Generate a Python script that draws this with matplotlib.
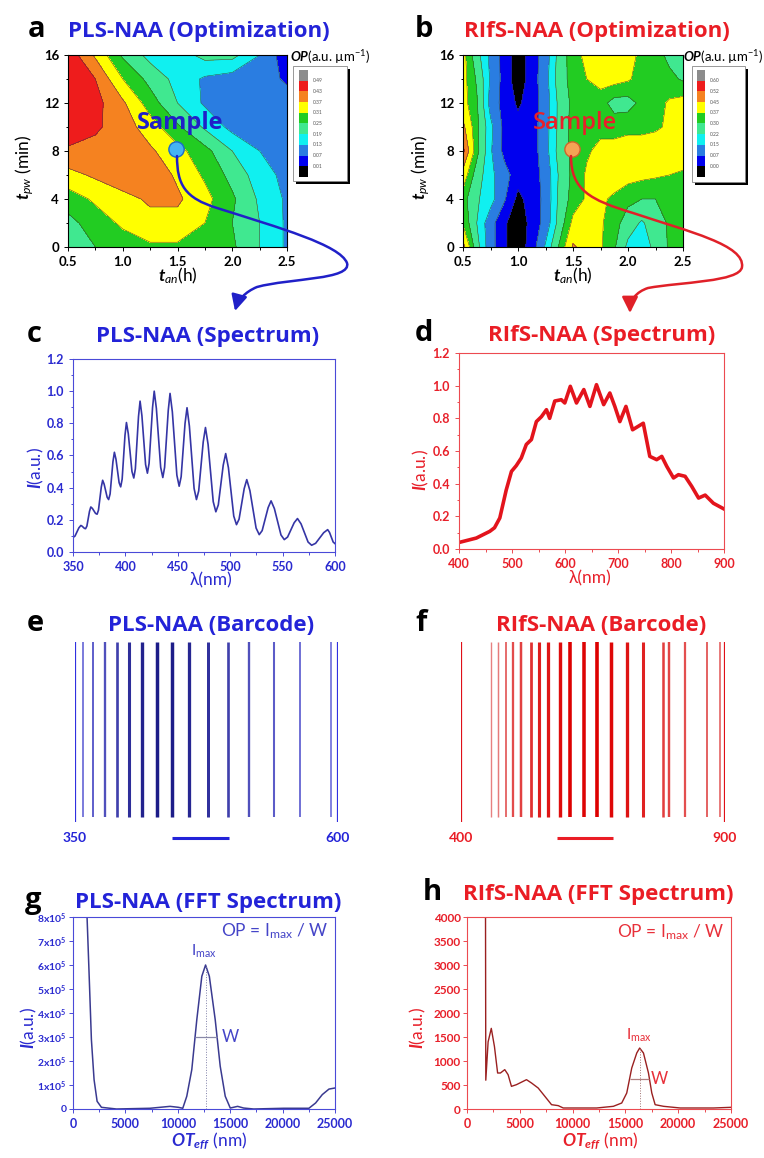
import numpy as np
import matplotlib
matplotlib.use('Agg')
import matplotlib.pyplot as plt
from matplotlib.path import Path
from matplotlib.patches import FancyArrowPatch, Rectangle
from matplotlib.colors import LinearSegmentedColormap
from matplotlib.ticker import MultipleLocator, FuncFormatter
import matplotlib.transforms as mtransforms

plt.rcParams['font.family'] = ['Lato', 'DejaVu Sans']
plt.rcParams['mathtext.fontset'] = 'custom'
plt.rcParams['mathtext.rm'] = 'Lato'
plt.rcParams['mathtext.it'] = 'Lato:italic'
plt.rcParams['mathtext.bf'] = 'Lato:bold'
plt.rcParams['mathtext.bfit'] = 'Lato:italic:bold'

# ---------------- data ----------------
# optimisation maps: OP over anodisation time (h) and pulse width (min)
t_an_pls = [0.5, 0.75, 1.0, 1.25, 1.5, 1.75, 2.0, 2.25, 2.5]
t_pw = [0, 2, 4, 6, 8, 10, 12, 14, 16]
op_pls = [
    [0.21, 0.25, 0.28, 0.30, 0.30, 0.29, 0.26, 0.19, 0.12],
    [0.23, 0.28, 0.32, 0.35, 0.35, 0.31, 0.25, 0.19, 0.12],
    [0.28, 0.32, 0.35, 0.38, 0.38, 0.33, 0.26, 0.18, 0.12],
    [0.35, 0.38, 0.41, 0.41, 0.36, 0.30, 0.23, 0.16, 0.11],
    [0.42, 0.41, 0.40, 0.38, 0.33, 0.27, 0.19, 0.13, 0.10],
    [0.47, 0.44, 0.40, 0.34, 0.26, 0.18, 0.11, 0.10, 0.10],
    [0.48, 0.45, 0.38, 0.28, 0.19, 0.12, 0.10, 0.10, 0.10],
    [0.48, 0.43, 0.31, 0.23, 0.17, 0.12, 0.10, 0.10, 0.06],
    [0.47, 0.36, 0.24, 0.17, 0.16, 0.21, 0.21, 0.13, 0.03],
]
levels_pls = [0.01, 0.07, 0.13, 0.19, 0.25, 0.31, 0.37, 0.43, 0.49]

t_an_rifs = [0.5, 0.625, 0.75, 0.875, 1.0, 1.125, 1.25, 1.375, 1.5,
             1.625, 1.75, 1.875, 2.0, 2.125, 2.25, 2.375, 2.5]
op_rifs = [
    [0.48, 0.25, 0.10, 0.01, -0.04, 0.03, 0.16, 0.31, 0.46, 0.42, 0.38, 0.31, 0.20, 0.18, 0.24, 0.31, 0.33],
    [0.36, 0.22, 0.10, 0.01, -0.04, 0.02, 0.10, 0.25, 0.39, 0.40, 0.38, 0.33, 0.26, 0.21, 0.26, 0.31, 0.34],
    [0.33, 0.23, 0.18, 0.08, -0.02, 0.03, 0.09, 0.24, 0.33, 0.38, 0.38, 0.36, 0.32, 0.30, 0.30, 0.32, 0.33],
    [0.42, 0.26, 0.17, 0.10, 0.03, 0.03, 0.10, 0.23, 0.32, 0.38, 0.40, 0.40, 0.40, 0.39, 0.38, 0.37, 0.36],
    [0.54, 0.325, 0.16, 0.05, 0.02, 0.03, 0.12, 0.25, 0.32, 0.36, 0.39, 0.40, 0.41, 0.41, 0.41, 0.41, 0.41],
    [0.47, 0.32, 0.17, 0.05, 0.02, 0.03, 0.12, 0.24, 0.33, 0.35, 0.35, 0.34, 0.35, 0.35, 0.36, 0.38, 0.40],
    [0.40, 0.31, 0.12, 0.04, -0.01, 0.03, 0.11, 0.24, 0.32, 0.33, 0.33, 0.27, 0.27, 0.32, 0.34, 0.38, 0.40],
    [0.40, 0.29, 0.14, 0.04, -0.04, 0.03, 0.12, 0.26, 0.33, 0.37, 0.40, 0.40, 0.38, 0.34, 0.33, 0.32, 0.29],
    [0.40, 0.25, 0.13, 0.04, -0.04, 0.03, 0.11, 0.25, 0.34, 0.39, 0.41, 0.41, 0.40, 0.35, 0.33, 0.28, 0.27],
]
levels_rifs = [0.00, 0.07, 0.15, 0.22, 0.30, 0.37, 0.45, 0.52, 0.60]

sample_an, sample_pw = 1.49, 8.2

# PLS-NAA reflection spectrum
wl_pls = [350, 351.9, 355.6, 357.5, 358.6, 360.9, 362, 363.25, 365.75, 367, 368.5, 371.5,
          373, 374.3, 377.0, 378.3, 379.7, 382.6, 384, 385.4, 388.1, 389.5, 391, 394,
          395.5, 396.9, 399.6, 401, 402.75, 406.25, 408, 409.5, 412.5, 414, 415.75,
          419.25, 421, 422.6, 425.9, 427.5, 429.55, 433.65, 435.7, 437.4, 440.9, 442.6,
          444.8, 449.1, 451.3, 453.2, 456.9, 458.8, 461.05, 465.55, 467.8, 469.95,
          474.25, 476.4, 478.9, 483.8, 486.3, 488.65, 493.35, 495.7, 498.3, 503.4, 506,
          508.45, 513.35, 515.8, 518.8, 524.7, 527.7, 530.5, 536.2, 539, 542.15, 548.45,
          551.6, 554.75, 561.05, 564.2, 567.6, 574.3, 577.7, 581.5, 589.2, 593, 594.75,
          598.25, 600]
int_pls = [0.09, 0.099, 0.150, 0.165, 0.161, 0.147, 0.145, 0.161, 0.253, 0.28, 0.271, 0.240,
           0.235, 0.260, 0.404, 0.446, 0.422, 0.340, 0.326, 0.361, 0.561, 0.62, 0.577, 0.431,
           0.405, 0.453, 0.725, 0.805, 0.736, 0.501, 0.46, 0.517, 0.842, 0.938, 0.848,
           0.544, 0.49, 0.551, 0.898, 1.0, 0.893, 0.527, 0.463, 0.526, 0.881, 0.986,
           0.871, 0.478, 0.409, 0.468, 0.799, 0.897, 0.783, 0.395, 0.326, 0.380,
           0.684, 0.774, 0.669, 0.313, 0.25, 0.293, 0.540, 0.612, 0.524, 0.223, 0.17,
           0.204, 0.394, 0.45, 0.382, 0.149, 0.108, 0.133, 0.276, 0.318, 0.270, 0.106,
           0.077, 0.093, 0.182, 0.208, 0.175, 0.062, 0.042, 0.054, 0.120, 0.139, 0.122,
           0.062, 0.052]

# RIfS-NAA reflection spectrum
wl_rifs = [400, 432.7, 458, 467, 477, 489, 499, 508, 517.5, 527, 536.6, 546, 555.5,
           565, 571, 580.7, 593, 599.6, 610, 621.7, 635.5, 647, 659.4, 673, 684.6,
           694, 703.5, 715, 727.5, 747.7, 760, 773, 782.6, 792, 804.7, 814, 826.6,
           839, 852, 864.5, 880, 900]
int_rifs = [0.04, 0.067, 0.108, 0.13, 0.19, 0.36, 0.475, 0.51, 0.557, 0.64, 0.67,
            0.78, 0.81, 0.853, 0.80, 0.906, 0.914, 0.894, 0.996, 0.894, 0.976, 0.873,
            1.006, 0.884, 0.955, 0.873, 0.78, 0.873, 0.73, 0.77, 0.567, 0.547, 0.567,
            0.506, 0.435, 0.455, 0.445, 0.384, 0.312, 0.33, 0.28, 0.245]

# barcodes: peak wavelength (nm) and relative intensity
bar_pls_nm = [357.5, 367, 378.3, 389.5, 401, 414, 427.5, 442.6, 458.8, 476.4,
              495.7, 515.8, 539, 564.2, 593]
bar_pls_int = [0.165, 0.28, 0.446, 0.62, 0.805, 0.938, 1.0, 0.986, 0.897, 0.774,
               0.612, 0.45, 0.318, 0.208, 0.139]
bar_pls_range = [350, 600]
bar_rifs_nm = [456.8, 470.6, 485.2, 499, 513, 532.6, 548.3, 565.3, 587.5, 606.4,
               633, 657, 683.5, 713.8, 745.3, 783.1, 793.9, 824.2, 865.3, 890.5]
bar_rifs_int = [0.11, 0.15, 0.30, 0.47, 0.55, 0.66, 0.80, 0.85, 0.91, 0.99, 0.97,
                1.0, 0.95, 0.87, 0.77, 0.57, 0.52, 0.45, 0.33, 0.26]
bar_rifs_range = [400, 900]

# FFT spectra
ot_pls = [1200, 1341, 1533, 1756, 2011, 2300, 2714, 4150, 7343, 9260, 10057, 10473,
          10856, 11335, 11813, 12292, 12650, 13010, 13570, 14048, 14527, 15006,
          15708, 16283, 17241, 20115, 22510, 23148, 23787, 24425, 25000]
fft_pls = [1.2e6, 8.0e5, 5.67e5, 2.89e5, 1.22e5, 3.2e4, 7e3, 0, 3e3, 1.1e4, 7e3, 3e3,
           5.3e4, 1.64e5, 3.72e5, 5.53e5, 6.0e5, 5.53e5, 3.72e5, 1.78e5, 5.3e4, 4e3,
           1.1e4, 4e3, 0, 3e3, 3e3, 2.5e4, 6e4, 8.3e4, 8.75e4]
peak_pls = (12650, 6.0e5)
w_pls = (11650, 13750)

ot_rifs = [1750, 1780, 2000, 2300, 2600, 2900, 3165, 3576, 3892, 4209, 4684, 5633,
           6108, 6741, 7373, 8006, 8639, 9114, 10696, 12278, 13861, 14652, 15127,
           15601, 16076, 16350, 16709, 17184, 17500, 17816, 18608, 20190, 23354, 25000]
fft_rifs = [4500, 600, 1400, 1680, 1300, 750, 750, 820, 715, 472, 507, 611, 542, 437,
            264, 90, 70, 21, 21, 21, 56, 125, 333, 854, 1167, 1270, 1167, 750, 333,
            90, 56, 21, 21, 35]
peak_rifs = (16350, 1270)
w_rifs = (15450, 17230)

# ---------------- styling ----------------
BLUE = '#2323d8'
RED = '#ea1d25'
map_colors = ['#000000', '#0000ee', '#2a7de1', '#10f0f0', '#40e890',
              '#22cc22', '#ffff00', '#f58220', '#ee1c1c', '#8c8c8c']
TITLE_FONT = 'Open Sans'

W, H = 764, 1158
fig = plt.figure(figsize=(W / 100, H / 100), dpi=100)


def rect(x0, y0, x1, y1):
    return [x0 / W, 1 - y1 / H, (x1 - x0) / W, (y1 - y0) / H]


def fxy(x, y):
    return (x / W, 1 - y / H)


def prect(x0, y0, x1, y1, **kw):
    return Rectangle((x0 / W, 1 - y1 / H), (x1 - x0) / W, (y1 - y0) / H,
                     transform=fig.transFigure, **kw)


def heading(letter, lx, title, tx, base, color):
    fig.text(lx / W, 1 - base / H, letter, fontsize=21, fontweight='bold',
             family='Open Sans', color='black', va='baseline', ha='left')
    fig.text(tx / W, 1 - base / H, title, fontsize=16, fontweight='bold',
             family=TITLE_FONT, color=color, va='baseline', ha='center')


def style_axes(ax, color, tickcolor, size=9):
    for s in ax.spines.values():
        s.set_color(color)
        s.set_linewidth(0.8)
    ax.tick_params(which='both', direction='out', colors=color, labelcolor=tickcolor,
                   labelsize=size, width=0.7)
    ax.tick_params(which='major', length=3)
    ax.tick_params(which='minor', length=1.8)
    for lab in ax.get_xticklabels() + ax.get_yticklabels():
        lab.set_fontweight('bold')


def label_at(text, x, y, color, rotation=0, size=12):
    fig.text(x / W, 1 - y / H, text, fontsize=size, color=color, rotation=rotation,
             ha='center', va='center')


def op_legend(box, bar, lx, levels):
    x0, y0, x1, y1 = box
    fig.add_artist(prect(x0 + 3, y0 + 3, x1 + 3, y1 + 3, facecolor='black', edgecolor='none'))
    fig.add_artist(prect(x0, y0, x1, y1, facecolor='white', edgecolor='#888888', lw=0.6))
    bx0, bx1, by0, by1 = bar
    n = len(map_colors)
    h = (by1 - by0) / n
    for i, c in enumerate(reversed(map_colors)):
        fig.add_artist(prect(bx0, by0 + i * h, bx1, by0 + (i + 1) * h,
                             facecolor=c, edgecolor='none'))
    for i, v in enumerate(reversed(levels)):
        fig.text(lx / W, 1 - (by0 + (i + 1) * h) / H, '%.2f' % v, fontsize=3.6,
                 color='#555555', va='center', ha='left')


# ---------------- a / b: optimisation maps ----------------
def op_map(axrect, x, z, levels, marker_fc, marker_ec, sample_color, sample_weight):
    ax = fig.add_axes(rect(*axrect))
    lv = [-1.0] + list(levels) + [2.0]
    ax.contourf(x, t_pw, np.array(z), levels=lv, colors=map_colors)
    ax.contour(x, t_pw, np.array(z), levels=levels, colors='#3a3a3a', linewidths=0.35)
    ax.set_xlim(0.5, 2.5)
    ax.set_ylim(0, 16)
    ax.xaxis.set_minor_locator(MultipleLocator(0.25))
    ax.yaxis.set_major_locator(MultipleLocator(4))
    ax.yaxis.set_minor_locator(MultipleLocator(2))
    ax.set_xticks([0.5, 1.0, 1.5, 2.0, 2.5])
    ax.set_xticklabels(['0.5', '1.0', '1.5', '2.0', '2.5'])
    style_axes(ax, 'black', 'black', size=9.5)
    ax.plot(sample_an, sample_pw, 'o', ms=11, mfc=marker_fc, mec=marker_ec, mew=1.0,
            zorder=6)
    ax.text(1.52, 10.3, 'Sample', color=sample_color, fontsize=17,
            fontweight=sample_weight, family=TITLE_FONT,
            ha='center', va='center', zorder=7)
    return ax


ax_a = op_map((68, 55, 287, 247), t_an_pls, op_pls, levels_pls, '#45b4f2', '#1a6cc8',
              '#2020c8', 'bold')
ax_b = op_map((463, 55, 683, 247), t_an_rifs, op_rifs, levels_rifs, '#f5a455', '#d0642a',
              '#e8202a', 'semibold')

op_legend((293, 66, 347, 181), (299, 308, 70, 177), 313, levels_pls)
op_legend((692, 66, 745, 182), (697, 705, 70, 177), 710, levels_rifs)
fig.text(330 / W, 1 - 57 / H, r'$\mathbfit{OP}$(a.u. µm$^{-1}$)', fontsize=9.5,
         ha='center', va='center')
fig.text(723 / W, 1 - 57 / H, r'$\mathbfit{OP}$(a.u. µm$^{-1}$)', fontsize=9.5,
         ha='center', va='center')

for x, y in ((25, 167), (421, 167)):
    label_at(r'$\mathbfit{t}_{pw}$ (min)', x, y, 'black', rotation=90, size=12.5)
for x, y in ((178, 276), (573, 276)):
    label_at(r'$\mathbfit{t}_{an}$(h)', x, y, 'black', size=12.5)

heading('a', 28, 'PLS-NAA (Optimization)', 199, 37, BLUE)
heading('b', 415, 'RIfS-NAA (Optimization)', 597, 37, RED)


# connecting arrows from each sample to its spectrum
def curve_arrow(pts, color):
    verts = [fxy(*p) for p in pts]
    codes = [Path.MOVETO] + [Path.CURVE4] * (len(verts) - 1)
    arr = FancyArrowPatch(path=Path(verts, codes),
                          arrowstyle='-|>,head_length=0.8,head_width=0.4',
                          mutation_scale=12, color=color, lw=1.8,
                          transform=fig.transFigure, zorder=10)
    fig.add_artist(arr)


curve_arrow([(177, 156), (177, 185), (185, 198), (217, 208), (280, 228), (340, 245),
             (347, 263), (352, 280), (290, 278), (257, 287), (245, 292), (238, 300),
             (235, 311)], '#2020c8')
curve_arrow([(571, 156), (571, 190), (590, 200), (633, 213), (690, 232), (745, 245),
             (742, 267), (740, 282), (680, 282), (648, 288), (636, 292), (630, 300),
             (630, 313)], '#e02028')

# ---------------- c / d: spectra ----------------
ax_c = fig.add_axes(rect(73, 359, 335, 552))
ax_c.plot(wl_pls, int_pls, color='#3535a5', lw=1.2)
ax_c.set_xlim(350, 600)
ax_c.set_ylim(0, 1.2)
ax_c.xaxis.set_major_locator(MultipleLocator(50))
ax_c.xaxis.set_minor_locator(MultipleLocator(25))
ax_c.yaxis.set_major_locator(MultipleLocator(0.2))
ax_c.yaxis.set_minor_locator(MultipleLocator(0.1))
ax_c.yaxis.set_major_formatter(FuncFormatter(lambda v, _: '%.1f' % v))
style_axes(ax_c, '#4a4ad8', '#2a2ad0')
label_at(r'$\mathbfit{I}$(a.u.)', 36, 468, '#2a2ad0', rotation=90, size=12.5)
label_at('λ(nm)', 211, 580, '#2a2ad0', size=12.5)
heading('c', 27, 'PLS-NAA (Spectrum)', 208, 342, BLUE)

ax_d = fig.add_axes(rect(459, 353, 724, 549))
ax_d.plot(wl_rifs, int_rifs, color='#e3141c', lw=2.6, solid_joinstyle='round')
ax_d.set_xlim(400, 900)
ax_d.set_ylim(0, 1.2)
ax_d.xaxis.set_major_locator(MultipleLocator(100))
ax_d.xaxis.set_minor_locator(MultipleLocator(50))
ax_d.yaxis.set_major_locator(MultipleLocator(0.2))
ax_d.yaxis.set_minor_locator(MultipleLocator(0.1))
ax_d.yaxis.set_major_formatter(FuncFormatter(lambda v, _: '%.1f' % v))
style_axes(ax_d, '#ec4a50', '#e8202a')
label_at(r'$\mathbfit{I}$(a.u.)', 421, 470, '#e8202a', rotation=90, size=12.5)
label_at('λ(nm)', 590, 578, '#e8202a', size=12.5)
heading('d', 415, 'RIfS-NAA (Spectrum)', 602, 341, RED)


# ---------------- e / f: barcodes ----------------
def barcode(axrect, nm, inten, rng, c_lo, c_hi, lw0, lw1, scale, color, ends_color):
    ax = fig.add_axes(rect(*axrect))
    cmap = LinearSegmentedColormap.from_list('bc', [c_lo, c_hi])
    for x, v in zip(nm, inten):
        ax.vlines(x, 0.03, 1.0, color=cmap(v), lw=lw0 + lw1 * v)
    for x in rng:
        ax.vlines(x, 0.0, 1.0, color=ends_color, lw=1.6)
    ax.set_xlim(rng[0], rng[1])
    ax.set_ylim(0, 1)
    ax.axis('off')
    tr = mtransforms.blended_transform_factory(ax.transData, ax.transAxes)
    for x in rng:
        ax.text(x, -0.09, '%d' % x, transform=tr, ha='center', va='center',
                color=color, fontsize=10, fontweight='bold')
    ax.plot(scale, [-0.09, -0.09], transform=tr, color=color, lw=2.2, clip_on=False,
            solid_capstyle='butt')
    return ax


barcode((75, 642, 338, 822), bar_pls_nm, bar_pls_int, bar_pls_range,
        '#7a7ae6', '#1c1c88', 1.0, 1.5, [442, 496], BLUE, '#3030e0')
barcode((461, 642, 725, 822), bar_rifs_nm, bar_rifs_int, bar_rifs_range,
        '#e89090', '#dd0000', 0.8, 1.8, [582, 688], RED, '#e01018')
heading('e', 27, 'PLS-NAA (Barcode)', 211, 631, BLUE)
heading('f', 415, 'RIfS-NAA (Barcode)', 601, 631, RED)

# ---------------- g / h: FFT spectra ----------------
ax_g = fig.add_axes(rect(73, 917, 335, 1109))
ax_g.plot(ot_pls, fft_pls, color='#3a3a90', lw=1.1)
ax_g.set_xlim(0, 25000)
ax_g.set_ylim(0, 8e5)
ax_g.xaxis.set_major_locator(MultipleLocator(5000))
ax_g.xaxis.set_minor_locator(MultipleLocator(2500))
ax_g.yaxis.set_major_locator(MultipleLocator(1e5))
ax_g.yaxis.set_major_formatter(FuncFormatter(
    lambda v, _: '0' if abs(v) < 1 else r'%dx10$^{\mathbf{5}}$' % round(v / 1e5)))
style_axes(ax_g, '#4a4ad8', '#2a2ad0')
ax_g.tick_params(axis='y', labelsize=7.5, pad=1.5)
ax_g.vlines(peak_pls[0], 0, peak_pls[1], color='#8080a8', lw=0.7, ls=':')
ax_g.hlines(peak_pls[1] / 2, w_pls[0], w_pls[1], color='#8888a8', lw=0.9)
ax_g.text(peak_pls[0] - 200, peak_pls[1] + 0.2e5, r'I$_{\rm max}$', color='#4545c8',
          fontsize=11, ha='center', va='bottom')
ax_g.text(14150, peak_pls[1] / 2, 'W', color='#4545c8', fontsize=12, va='center')
ax_g.text(0.975, 0.925, r'OP = I$_{\rm max}$ / W', transform=ax_g.transAxes,
          color='#4545c8', fontsize=12.5, ha='right', va='center')
label_at(r'$\mathbfit{I}$(a.u.)', 29, 1028, '#2a2ad0', rotation=90, size=12.5)
label_at(r'$\mathbfit{OT}_{\mathbfit{eff}}$ (nm)', 209, 1141, '#2a2ad0', size=12.5)
heading('g', 25, 'PLS-NAA (FFT Spectrum)', 208, 908, BLUE)

ax_h = fig.add_axes(rect(467, 917, 731, 1109))
ax_h.plot(ot_rifs, fft_rifs, color='#9a2020', lw=1.0)
ax_h.set_xlim(0, 25000)
ax_h.set_ylim(0, 4000)
ax_h.xaxis.set_major_locator(MultipleLocator(5000))
ax_h.xaxis.set_minor_locator(MultipleLocator(2500))
ax_h.yaxis.set_major_locator(MultipleLocator(500))
style_axes(ax_h, '#ec4a50', '#e8202a')
ax_h.tick_params(axis='y', labelsize=8.5, pad=1.5)
ax_h.vlines(peak_rifs[0], 0, peak_rifs[1], color='#a07070', lw=0.7, ls=':')
ax_h.hlines(peak_rifs[1] / 2, w_rifs[0], w_rifs[1], color='#b08080', lw=0.9)
ax_h.text(peak_rifs[0] - 100, peak_rifs[1] + 80, r'I$_{\rm max}$', color='#e8303a',
          fontsize=11, ha='center', va='bottom')
ax_h.text(17400, peak_rifs[1] / 2, 'W', color='#e8303a', fontsize=12, va='center')
ax_h.text(0.975, 0.92, r'OP = I$_{\rm max}$ / W', transform=ax_h.transAxes,
          color='#e8303a', fontsize=12.5, ha='right', va='center')
label_at(r'$\mathbfit{I}$(a.u.)', 418, 1028, '#e8202a', rotation=90, size=12.5)
label_at(r'$\mathbfit{OT}_{\mathbfit{eff}}$ (nm)', 600, 1141, '#e8202a', size=12.5)
heading('h', 423, 'RIfS-NAA (FFT Spectrum)', 598, 900, RED)

fig.savefig('out.png', dpi=100)
